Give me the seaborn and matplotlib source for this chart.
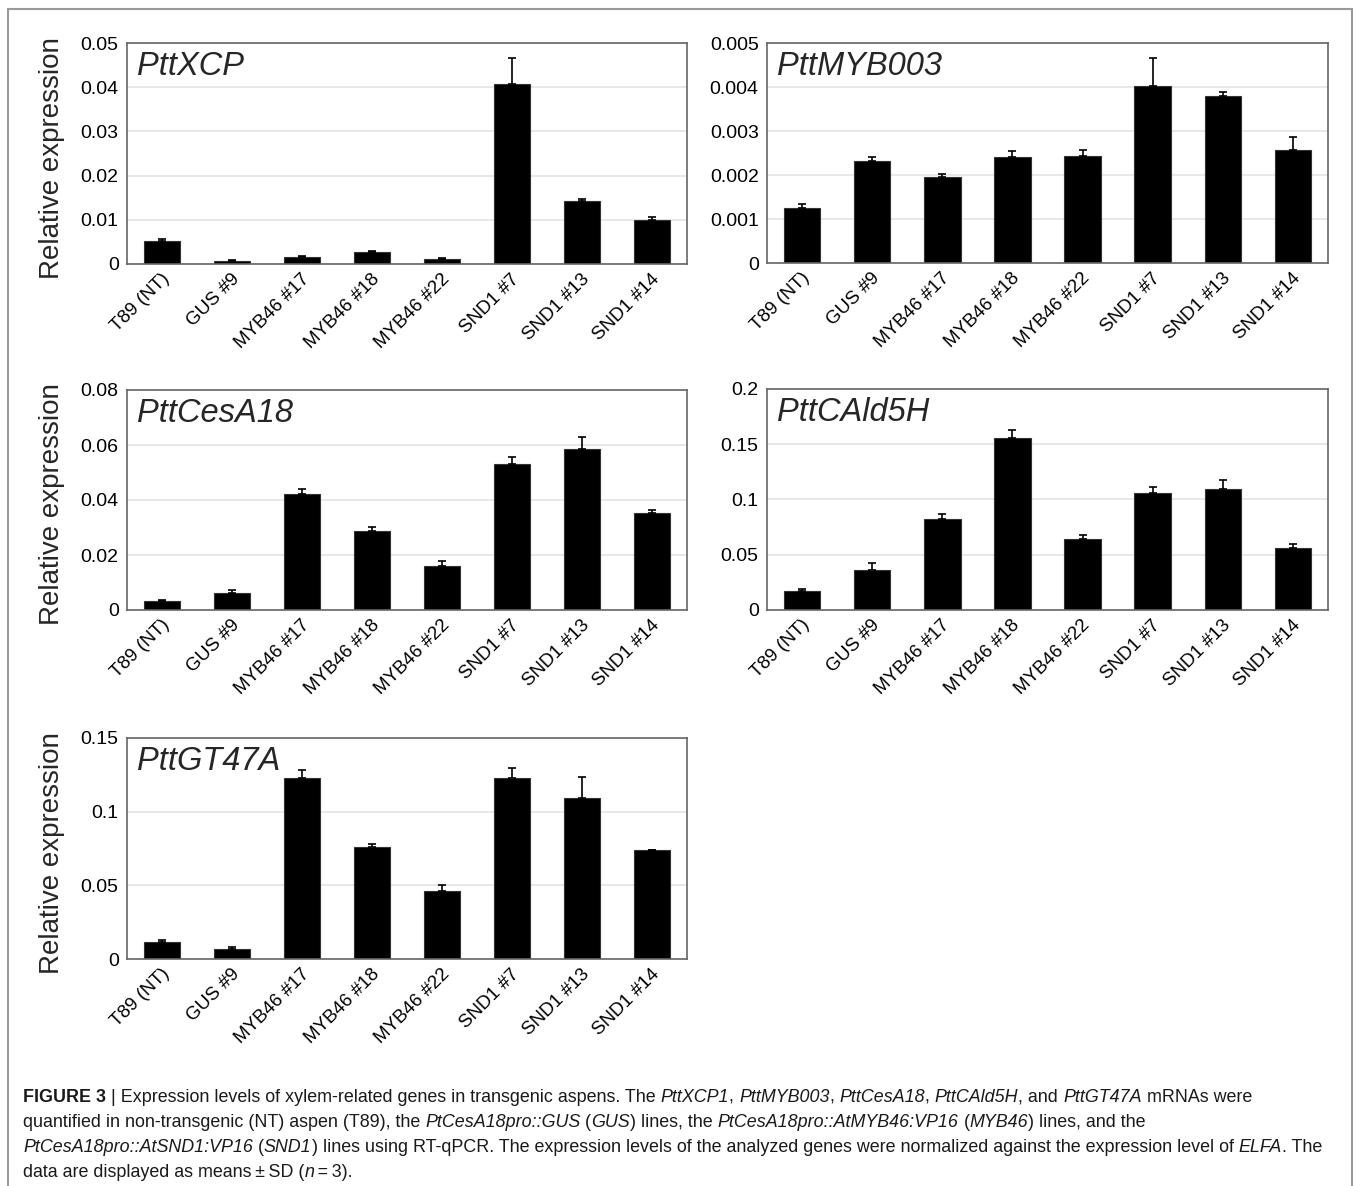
import matplotlib
matplotlib.use("Agg")
import matplotlib.pyplot as plt
import matplotlib.transforms as mtrans
from matplotlib.patches import Rectangle
from matplotlib.ticker import FuncFormatter
import numpy as np
import seaborn as sns

# lines on the x axis
lines = ['T89 (NT)', 'GUS #9', 'MYB46 #17', 'MYB46 #18', 'MYB46 #22',
         'SND1 #7', 'SND1 #13', 'SND1 #14']

# means and SD
xcp_mean = [0.0052, 0.0007, 0.0016, 0.0028, 0.0012, 0.0407, 0.0143, 0.0100]
xcp_sd = [0.0005, 0.0003, 0.0003, 0.00015, 0.00015, 0.0060, 0.0003, 0.0006]

myb_mean = [0.00126, 0.00231, 0.00196, 0.00241, 0.00243, 0.00402, 0.00379, 0.00257]
myb_sd = [0.00008, 0.0001, 0.00007, 0.00013, 0.00013, 0.00064, 0.00009, 0.0003]

cesa_mean = [0.0033, 0.0063, 0.0423, 0.0286, 0.0160, 0.0530, 0.0586, 0.0351]
cesa_sd = [0.0004, 0.0011, 0.0018, 0.0015, 0.0020, 0.0026, 0.0043, 0.0014]

cald_mean = [0.0170, 0.0364, 0.0824, 0.1558, 0.0642, 0.1058, 0.1097, 0.0558]
cald_sd = [0.0018, 0.0060, 0.0043, 0.0072, 0.0034, 0.0051, 0.0076, 0.0036]

gt_mean = [0.0112, 0.0071, 0.1228, 0.0760, 0.0463, 0.1228, 0.1094, 0.0740]
gt_sd = [0.0016, 0.0013, 0.0055, 0.0018, 0.0042, 0.0067, 0.0143, 0.0]

xcp_ticks = [0, 0.01, 0.02, 0.03, 0.04, 0.05]
myb_ticks = [0, 0.001, 0.002, 0.003, 0.004, 0.005]
cesa_ticks = [0, 0.02, 0.04, 0.06, 0.08]
cald_ticks = [0, 0.05, 0.1, 0.15, 0.2]
gt_ticks = [0, 0.05, 0.1, 0.15]

W, H = 1355, 1186
sns.set_theme(style="white")
plt.rcParams['font.family'] = ['Liberation Sans', 'DejaVu Sans']

fig = plt.figure(figsize=(W / 100, H / 100), dpi=100)

# frame round the whole figure
fig.patches.append(Rectangle((8 / W, -0.02), 1344 / W, 1 - 9 / H + 0.02,
                             transform=fig.transFigure, fill=False,
                             edgecolor='#9a9a9a', lw=1.5))


def px_axes(left, top, right, bottom):
    return fig.add_axes([left / W, 1 - bottom / H, (right - left) / W, (bottom - top) / H])


def panel(ax, mean, sd, ticks, name, ylabel):
    sns.barplot(x=lines, y=mean, color='black', saturation=1, width=0.52,
                edgecolor='#333333', linewidth=0.8, ax=ax, zorder=2)
    x = np.arange(len(lines))
    ax.errorbar(x, mean, yerr=[np.zeros(len(sd)), sd], fmt='none',
                ecolor='black', elinewidth=1.2, capsize=3.2, capthick=1.2, zorder=3)
    ax.set_xlim(-0.5, len(lines) - 0.5)
    ax.set_ylim(0, ticks[-1])
    ax.set_yticks(ticks)
    ax.yaxis.set_major_formatter(FuncFormatter(lambda v, p: f'{v:g}'))
    ax.yaxis.grid(True, color='#e4e4e4', lw=1.2)
    ax.set_axisbelow(True)
    for s in ax.spines.values():
        s.set_color('#666666')
        s.set_linewidth(1.2)
    ax.tick_params(axis='y', length=0, pad=6, labelsize=14, labelcolor='black')
    ax.tick_params(axis='x', length=0, pad=9, labelsize=13.5, labelcolor='black')
    off = mtrans.ScaledTranslation(5 / 100, 0, fig.dpi_scale_trans)
    for lab in ax.get_xticklabels():
        lab.set_rotation(45)
        lab.set_rotation_mode('anchor')
        lab.set_ha('right')
        lab.set_va('center')
        lab.set_transform(lab.get_transform() + off)
    ax.set_xlabel('')
    ax.text(0.018, 0.855, name, transform=ax.transAxes, fontsize=23.5,
            style='italic', ha='left', va='baseline')
    if ylabel:
        ax.set_ylabel('Relative expression', fontsize=20)
        ax.yaxis.set_label_coords(-0.111, 0.48)
    else:
        ax.set_ylabel('')


ax1 = px_axes(127, 43, 687, 264)
panel(ax1, xcp_mean, xcp_sd, xcp_ticks, 'PttXCP', True)
ax2 = px_axes(767, 43, 1328, 263)
panel(ax2, myb_mean, myb_sd, myb_ticks, 'PttMYB003', False)
ax3 = px_axes(127, 390, 687, 610)
panel(ax3, cesa_mean, cesa_sd, cesa_ticks, 'PttCesA18', True)
ax4 = px_axes(767, 389, 1328, 610)
panel(ax4, cald_mean, cald_sd, cald_ticks, 'PttCAld5H', False)
ax5 = px_axes(127, 738, 687, 959)
panel(ax5, gt_mean, gt_sd, gt_ticks, 'PttGT47A', True)

# caption, built piece by piece because of the italic names
N, I, B = 'normal', 'italic', 'bold'
caption = [
    [('FIGURE 3', B), (' | Expression levels of xylem-related genes in transgenic aspens. The ', N),
     ('PttXCP1', I), (', ', N), ('PttMYB003', I), (', ', N), ('PttCesA18', I), (', ', N),
     ('PttCAld5H', I), (', and ', N), ('PttGT47A', I), (' mRNAs were', N)],
    [('quantified in non-transgenic (NT) aspen (T89), the ', N), ('PtCesA18pro::GUS', I),
     (' (', N), ('GUS', I), (') lines, the ', N), ('PtCesA18pro::AtMYB46:VP16', I),
     (' (', N), ('MYB46', I), (') lines, and the', N)],
    [('PtCesA18pro::AtSND1:VP16', I), (' (', N), ('SND1', I),
     (') lines using RT-qPCR. The expression levels of the analyzed genes were normalized '
      'against the expression level of ', N), ('ELFA', I), ('. The', N)],
    [('data are displayed as means\u2009\u00b1\u2009SD (', N), ('n', I), ('\u2009=\u20093).', N)],
]
cap_size = 12.85
renderer = fig.canvas.get_renderer()


def seg_width(txt, style):
    kw = dict(fontsize=cap_size, style='italic' if style == I else 'normal',
              weight='bold' if style == B else 'normal')
    a = fig.text(0, 0, '|' + txt + '|', **kw)
    b = fig.text(0, 0, '||', **kw)
    w = a.get_window_extent(renderer).width - b.get_window_extent(renderer).width
    a.remove()
    b.remove()
    return w


baselines = [1102, 1127, 1152, 1177]
for parts, yb in zip(caption, baselines):
    xp = 23
    for txt, st in parts:
        fig.text(xp / W, 1 - yb / H, txt, fontsize=cap_size, color='#1a1a1a',
                 style='italic' if st == I else 'normal',
                 weight='bold' if st == B else 'normal', ha='left', va='baseline')
        xp += seg_width(txt, st)

fig.savefig('out.png', dpi=100)
